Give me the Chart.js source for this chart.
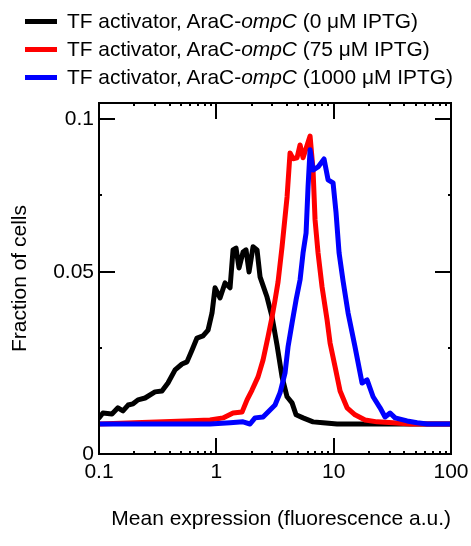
<!DOCTYPE html>
<html>
<head>
<meta charset="utf-8">
<script src="https://cdn.jsdelivr.net/npm/chart.js@4/dist/chart.umd.min.js"></script>
<style>
  html, body { margin: 0; padding: 0; background: #fff; }
  #wrap { position: relative; width: 471px; height: 546px; }
  #c { position: absolute; left: 0; top: 0; }
  #legend { position: absolute; left: 25px; top: 7px; font-family: "Liberation Sans", Arial, sans-serif; font-size: 20.9px; color: #000; }
  .row { height: 28px; line-height: 28px; white-space: nowrap; display: flex; align-items: center; }
  .sw { display: inline-block; width: 32px; height: 5px; margin-right: 10px; }
</style>
</head>
<body>
<div id="wrap">
  <canvas id="c" width="471" height="546"></canvas>
  <div id="legend"></div>
</div>
<script>
// ---- data ----
const seriesLabels = [
  'TF activator, AraC-<i>ompC</i> (0 \u03bcM IPTG)',
  'TF activator, AraC-<i>ompC</i> (75 \u03bcM IPTG)',
  'TF activator, AraC-<i>ompC</i> (1000 \u03bcM IPTG)'
];
const seriesColors = ['#000000', '#ff0000', '#0000ff'];

const blackX = [0.1, 0.108, 0.129, 0.145, 0.160, 0.177, 0.195, 0.215, 0.247, 0.300, 0.344, 0.387, 0.445, 0.510, 0.562, 0.621, 0.684, 0.770, 0.850, 0.919, 0.975, 1.075, 1.186, 1.309, 1.388, 1.472, 1.561, 1.689, 1.791, 1.900, 2.055, 2.223, 2.358, 2.704, 2.985, 3.293, 3.632, 4.007, 4.419, 4.779, 5.483, 6.673, 8.121, 10.69, 100];
const blackY = [0.0023, 0.0039, 0.0036, 0.0056, 0.0046, 0.0065, 0.0069, 0.0082, 0.0088, 0.0108, 0.0111, 0.0137, 0.0180, 0.0199, 0.0206, 0.0245, 0.0284, 0.0291, 0.0310, 0.0366, 0.0448, 0.0415, 0.0464, 0.0448, 0.0572, 0.0578, 0.0513, 0.0565, 0.0572, 0.0500, 0.0582, 0.0572, 0.0484, 0.0418, 0.0353, 0.0260, 0.0157, 0.0092, 0.0072, 0.0033, 0.0023, 0.0010, 0.0007, 0.0003, 0.0003];

const redX = [0.1, 0.541, 0.884, 1.140, 1.388, 1.656, 1.827, 2.015, 2.267, 2.501, 2.758, 2.985, 3.165, 3.357, 3.632, 4.007, 4.248, 4.508, 4.875, 5.171, 5.483, 6.293, 6.673, 6.940, 7.362, 7.962, 8.786, 9.317, 10.28, 11.34, 13.01, 15.21, 18.52, 23.44, 32.09, 44.79, 100];
const redY = [0.0003, 0.0013, 0.0016, 0.0023, 0.0039, 0.0042, 0.0082, 0.0114, 0.0157, 0.0212, 0.0288, 0.0353, 0.0408, 0.0467, 0.0582, 0.0745, 0.0889, 0.0870, 0.0873, 0.0915, 0.0873, 0.0944, 0.0833, 0.0670, 0.0562, 0.0451, 0.0343, 0.0268, 0.0190, 0.0111, 0.0056, 0.0033, 0.0016, 0.0010, 0.0007, 0.0003, 0.0003];

const blueX = [0.1, 0.884, 1.309, 1.689, 1.937, 2.138, 2.501, 2.869, 3.165, 3.492, 3.852, 4.085, 4.419, 4.779, 5.171, 5.483, 5.817, 6.05, 6.293, 6.673, 7.362, 8.28, 8.96, 9.88, 10.48, 11.12, 12.03, 13.27, 15.21, 17.46, 19.27, 21.68, 24.86, 27.42, 30.26, 33.38, 42.24, 51.4, 62.5, 100];
const blueY = [0.0003, 0.0003, 0.0007, 0.0010, 0.0003, 0.0023, 0.0026, 0.0049, 0.0065, 0.0105, 0.0170, 0.0255, 0.0333, 0.0408, 0.0474, 0.0562, 0.0627, 0.0778, 0.0899, 0.0833, 0.0843, 0.0869, 0.0801, 0.0791, 0.0693, 0.0562, 0.0470, 0.0366, 0.0255, 0.0137, 0.0147, 0.0092, 0.0056, 0.0026, 0.0039, 0.0023, 0.0013, 0.0007, 0.0003, 0.0003];

const xMin = 0.1, xMax = 100;
const xTickValues = [0.1, 1, 10, 100];
const xTickLabels = ['0.1', '1', '10', '100'];
const yMin = -0.0095, yMax = 0.1052;
const yTickValues = [yMin, 0.05, 0.1];
const yTickLabels = ['0', '0.05', '0.1'];
const yMinorValues = [0.025, 0.075];
const xTitle = 'Mean expression (fluorescence a.u.)';
const yTitle = 'Fraction of cells';

// ---- legend (HTML, for italic ompC) ----
const leg = document.getElementById('legend');
seriesLabels.forEach((t, i) => {
  const r = document.createElement('div');
  r.className = 'row';
  r.innerHTML = '<span class="sw" style="background:' + seriesColors[i] + '"></span><span>' + t + '</span>';
  leg.appendChild(r);
});

const pts = (xs, ys) => xs.map((x, i) => ({ x: x, y: ys[i] }));
const FONT = { family: '"Liberation Sans", Arial, sans-serif', size: 21 };

const framePlugin = {
  id: 'frame',
  afterDatasetsDraw(chart) {
    const { ctx, chartArea: a, scales: { x, y } } = chart;
    ctx.save();
    ctx.strokeStyle = '#000';
    ctx.lineWidth = 2;
    ctx.lineCap = 'butt';
    ctx.beginPath();
    ctx.rect(a.left, a.top, a.right - a.left, a.bottom - a.top);
    const major = 16, minor = 3;
    xTickValues.forEach(v => {
      const px = Math.round(x.getPixelForValue(v));
      ctx.moveTo(px, a.bottom); ctx.lineTo(px, a.bottom - major);
      ctx.moveTo(px, a.top); ctx.lineTo(px, a.top + major);
    });
    for (let d = 0.1; d < 99; d *= 10) {
      for (let m = 2; m <= 9; m++) {
        const px = Math.round(x.getPixelForValue(d * m));
        ctx.moveTo(px, a.bottom); ctx.lineTo(px, a.bottom - minor);
        ctx.moveTo(px, a.top); ctx.lineTo(px, a.top + minor);
      }
    }
    yTickValues.forEach(v => {
      const py = Math.round(y.getPixelForValue(v));
      ctx.moveTo(a.left, py); ctx.lineTo(a.left + major, py);
      ctx.moveTo(a.right, py); ctx.lineTo(a.right - major, py);
    });
    yMinorValues.forEach(v => {
      const py = Math.round(y.getPixelForValue(v));
      ctx.moveTo(a.left, py); ctx.lineTo(a.left + minor, py);
      ctx.moveTo(a.right, py); ctx.lineTo(a.right - minor, py);
    });
    ctx.stroke();
    ctx.restore();
  }
};

new Chart(document.getElementById('c'), {
  type: 'line',
  data: {
    datasets: [
      { data: pts(blackX, blackY), borderColor: seriesColors[0], order: 3 },
      { data: pts(redX, redY), borderColor: seriesColors[1], order: 2 },
      { data: pts(blueX, blueY), borderColor: seriesColors[2], order: 1 }
    ]
  },
  options: {
    responsive: false,
    devicePixelRatio: 1,
    animation: false,
    layout: { padding: { left: 0, right: 20, top: 103, bottom: 0 } },
    elements: {
      line: { borderWidth: 5, tension: 0, borderJoinStyle: 'round', borderCapStyle: 'round', fill: false },
      point: { radius: 0 }
    },
    plugins: { legend: { display: false }, tooltip: { enabled: false } },
    scales: {
      x: {
        type: 'logarithmic', min: xMin, max: xMax,
        grid: { display: false, drawTicks: false },
        border: { display: false },
        afterBuildTicks: s => { s.ticks = xTickValues.map(v => ({ value: v })); },
        afterFit: s => { s.height = 92; s.paddingLeft = 0; s.paddingRight = 0; },
        ticks: {
          color: '#000', font: FONT, padding: 6, maxRotation: 0, autoSkip: false,
          callback: (v, i) => xTickLabels[i]
        },
        title: { display: true, text: xTitle, color: '#000', font: FONT, align: 'end', padding: { top: 0, bottom: 14 } }
      },
      y: {
        type: 'linear', min: yMin, max: yMax,
        grid: { display: false, drawTicks: false },
        border: { display: false },
        afterBuildTicks: s => { s.ticks = yTickValues.map(v => ({ value: v })); },
        afterFit: s => { s.width = 99; s.paddingTop = 0; s.paddingBottom = 0; },
        ticks: {
          color: '#000', font: FONT, padding: 5, autoSkip: false,
          callback: (v, i) => yTickLabels[i]
        },
        title: { display: true, text: yTitle, color: '#000', font: FONT, padding: { top: 8, bottom: 0 } }
      }
    }
  },
  plugins: [framePlugin]
});
</script>
</body>
</html>
